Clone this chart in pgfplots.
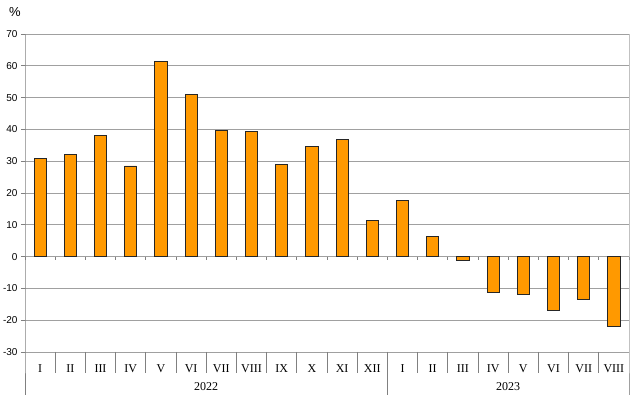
\documentclass[border=0pt]{standalone}
\usepackage{pgfplots}
\pgfplotsset{compat=1.18}
\usepackage{fontspec}
\setmainfont{Liberation Serif}
\newfontfamily\arial{Liberation Sans}
\definecolor{barorange}{HTML}{FF9900}
\definecolor{gridgray}{HTML}{A0A0A0}
\definecolor{axgray}{HTML}{808080}
\begin{document}
\begin{tikzpicture}
\begin{axis}[
  at={(0pt,0pt)}, anchor=south west,
  scale only axis, width=604pt, height=318pt,
  xmin=-0.5, xmax=19.5, ymin=-30, ymax=70,
  ytick={-30,-20,...,70},
  ymajorgrids, grid style={gridgray, line width=0.8pt},
  axis line style={draw=none},
  ytick pos=left, tick align=outside, major tick length=4pt,
  ytick style={axgray, line width=0.8pt},
  xtick={0,...,19},
  xticklabels={I,II,III,IV,V,VI,VII,VIII,IX,X,XI,XII,I,II,III,IV,V,VI,VII,VIII},
  xtick style={draw=none},
  x tick label style={font=\fontsize{12}{12}\selectfont, anchor=base, yshift=-17pt, inner sep=0pt},
  y tick label style={font=\arial\fontsize{10}{10}\selectfont},
  /pgf/number format/assume math mode=true,
  clip=false,
]
\addplot[ybar, bar width=0.4, fill=barorange, draw=black!85, line width=0.8pt] coordinates {
  (0,31) (1,32) (2,38) (3,28.5) (4,61.3) (5,51) (6,39.6) (7,39.3) (8,29) (9,34.6)
  (10,36.7) (11,11.3) (12,17.7) (13,6.4) (14,-1.1) (15,-11.2) (16,-12) (17,-16.8) (18,-13.4) (19,-22)
};
\pgfplotsinvokeforeach{-0.5,0.5,...,19.5}{
  \draw[axgray, line width=0.8pt] (axis cs:#1,0) -- ++(0pt,-3pt);
}
\pgfplotsinvokeforeach{0.5,1.5,...,18.5}{
  \draw[axgray, line width=0.8pt] (axis cs:#1,-30) -- ++(0pt,-21pt);
}
\draw[axgray, line width=0.8pt] (axis cs:11.5,-30) -- ++(0pt,-43pt);
\draw[axgray, line width=0.8pt] (axis cs:-0.5,70) -- (axis cs:-0.5,-30) -- ++(0pt,-43pt);
\draw[gridgray, line width=0.8pt] (axis cs:19.5,70) -- (axis cs:19.5,-30) -- ++(0pt,-43pt);
\node[font=\fontsize{12}{12}\selectfont, anchor=base] at ([yshift=-39pt]axis cs:5.5,-30) {2022};
\node[font=\fontsize{12}{12}\selectfont, anchor=base] at ([yshift=-39pt]axis cs:15.5,-30) {2023};
\node[font=\arial\fontsize{13}{13}\selectfont, anchor=center] at ([xshift=-10pt,yshift=22pt]rel axis cs:0,1) {\%};
\end{axis}
\pgfresetboundingbox
\useasboundingbox (-25pt,-49pt) rectangle (609pt,352pt);
\end{tikzpicture}
\end{document}
